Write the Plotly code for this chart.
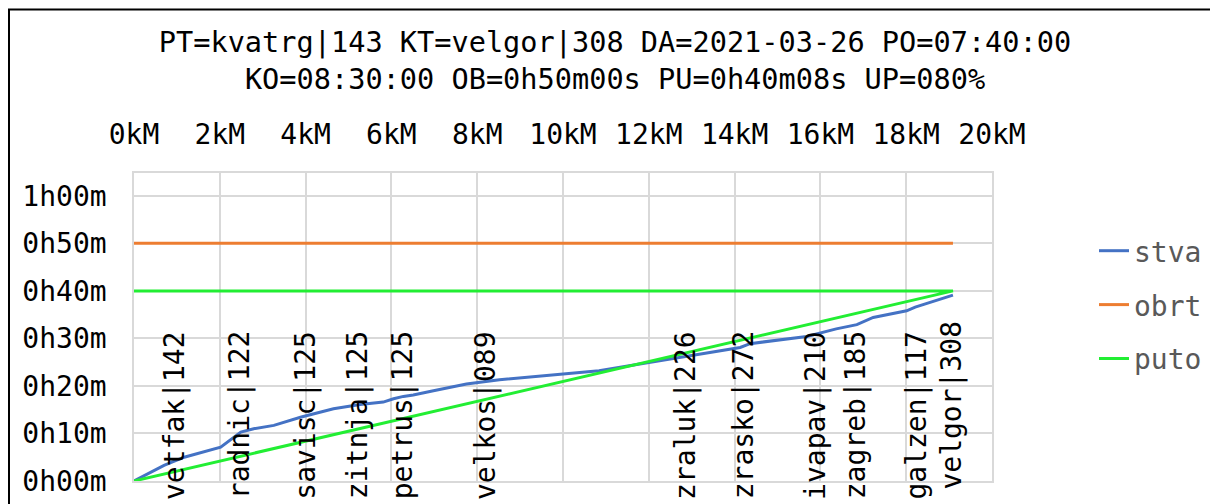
import plotly.graph_objects as go

# ---------------- data ----------------
title_line1 = "PT=kvatrg|143 KT=velgor|308 DA=2021-03-26 PO=07:40:00"
title_line2 = "KO=08:30:00 OB=0h50m00s PU=0h40m08s UP=080%"

km_ticks = [0, 2, 4, 6, 8, 10, 12, 14, 16, 18, 20]
km_tick_labels = ["0kM", "2kM", "4kM", "6kM", "8kM", "10kM", "12kM", "14kM", "16kM", "18kM", "20kM"]

min_ticks = [0, 10, 20, 30, 40, 50, 60]
min_tick_labels = ["0h00m", "0h10m", "0h20m", "0h30m", "0h40m", "0h50m", "1h00m"]

# actual travel ("stva"): distance in km vs elapsed minutes
stva_km = [0, 0.70, 1.17, 2.02, 2.49, 2.79, 3.26, 3.88, 4.65, 5.27, 5.81, 6.05, 6.28,
           6.51, 6.98, 7.75, 8.52, 10.84, 11.79, 13.61, 14.13, 14.36, 15.68, 16.37,
           16.85, 17.23, 18.01, 18.21, 19.09]
stva_min = [0, 3.3, 5.0, 7.1, 10.3, 11.0, 11.7, 13.4, 15.2, 16.1, 16.6, 17.3, 17.8,
            18.1, 19.0, 20.4, 21.3, 23.2, 24.6, 27.4, 28.1, 28.9, 30.4, 32.0,
            32.9, 34.4, 35.8, 36.6, 39.1]

# turnaround time ("obrt")
obrt_km = [0, 19.09]
obrt_min = [50, 50]

# planned route time ("puto")
puto_km = [0, 19.09, 0]
puto_min = [40, 40, 0]

# stations
station_names = ["vetfak", "radnic", "savisc", "zitnja", "petrus", "velkos",
                 "zraluk", "zrasko", "ivapav", "zagreb", "galzen", "velgor"]
station_codes = ["142", "122", "125", "125", "125", "089",
                 "226", "272", "210", "185", "117", "308"]
station_km = [0.93, 2.45, 4.00, 5.20, 6.25, 8.18, 12.84, 14.20, 15.87, 16.81, 18.24, 19.06]

# ---------------- style / layout ----------------
FONT = "DejaVu Sans Mono"
FS = 28
GRID = "#d9d9d9"

# the page body has an 8px margin, so the figure is sized to fit the window
W, H = 1210, 496
ML, MR, MT, MB = 126, 226, 165, 23
PW = W - ML - MR
PH = H - MT - MB


def px_x(p):  # figure pixel -> paper x
    return (p - ML) / PW


def px_y(p):  # figure pixel -> paper y
    return (H - MB - p) / PH


fig = go.Figure()
fig.add_trace(go.Scatter(x=stva_km, y=stva_min, mode="lines", name="stva",
                         line=dict(color="#4472C4", width=3), legendgroup="a"))
fig.add_trace(go.Scatter(x=obrt_km, y=obrt_min, mode="lines", name="obrt",
                         line=dict(color="#ED7D31", width=3), legendgroup="b"))
fig.add_trace(go.Scatter(x=puto_km, y=puto_min, mode="lines", name="puto",
                         line=dict(color="#22EE33", width=3), legendgroup="c"))

annotations = []
for i, (n, c, k) in enumerate(zip(station_names, station_codes, station_km)):
    top_min = 34.0 if i == len(station_names) - 1 else 31.85
    annotations.append(dict(
        x=k, y=top_min, xref="x", yref="y", text=f"{n}|{c}",
        textangle=-90, showarrow=False, xanchor="center", yanchor="top",
        font=dict(family=FONT, size=FS, color="#000000"), borderpad=0))

fig.update_layout(
    width=W, height=H,
    margin=dict(l=ML, r=MR, t=MT, b=MB, autoexpand=False),
    paper_bgcolor="white", plot_bgcolor="white",
    font=dict(family=FONT, size=FS, color="#000000"),
    title=dict(text=title_line1 + "<br>" + title_line2, x=(615 - 8) / W, xanchor="center",
               y=0.912, yanchor="top", yref="container",
               font=dict(family=FONT, size=28.6, color="#000000")),
    xaxis=dict(range=[0, 20], side="top", tickmode="array", tickvals=km_ticks,
               ticktext=km_tick_labels, showgrid=True, gridcolor=GRID, gridwidth=1.5,
               zeroline=False, showline=True, linecolor=GRID, linewidth=1.5, mirror=True,
               ticks="", ticklabelstandoff=16,
               tickfont=dict(family=FONT, size=FS, color="#000000")),
    yaxis=dict(range=[0, 64.8], tickmode="array", tickvals=min_ticks,
               ticktext=min_tick_labels, showgrid=True, gridcolor=GRID, gridwidth=1.5,
               zeroline=False, showline=True, linecolor=GRID, linewidth=1.5, mirror=True,
               ticks="", ticklabelstandoff=20,
               tickfont=dict(family=FONT, size=FS, color="#000000")),
    legend=dict(x=px_x(1094 - 8), xanchor="left", y=px_y(218), yanchor="top",
                font=dict(family=FONT, size=FS, color="#595959"),
                tracegroupgap=14.5, bgcolor="rgba(0,0,0,0)", itemwidth=30),
    showlegend=True,
    annotations=annotations,
    shapes=[dict(type="rect", xref="paper", yref="paper",
                 x0=px_x(1), x1=px_x(W + 50),
                 y0=px_y(H + 50), y1=px_y(1.5),
                 line=dict(color="#000000", width=2), fillcolor="rgba(0,0,0,0)",
                 layer="above")],
)

fig.write_html("out.html")
